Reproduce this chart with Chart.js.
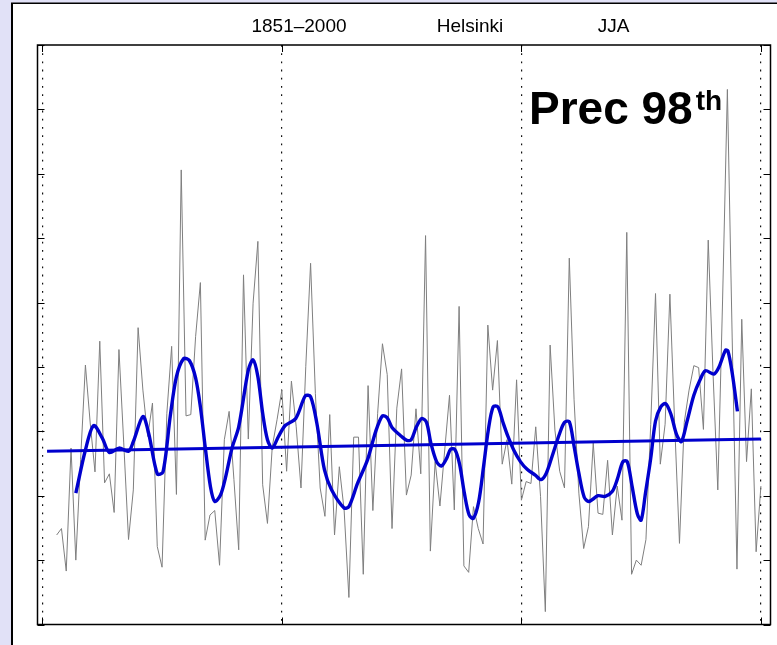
<!DOCTYPE html>
<html>
<head>
<meta charset="utf-8">
<title>Helsinki JJA Prec 98th</title>
<script src="https://cdn.jsdelivr.net/npm/chart.js@4.4.1/dist/chart.umd.min.js"></script>
<style>
  html, body { margin: 0; padding: 0; background: #e1e1f7; }
  canvas { display: block; }
</style>
</head>
<body>
<canvas id="chart" width="777" height="645"></canvas>
<script>
// Summer (JJA) 98th percentile precipitation index, Helsinki
const firstYear = 1853;
const annualValues = [
  1.39, 1.49, 0.83, 2.74, 1.00, 2.56, 4.03,                         // 1853-1859
  3.13, 2.37, 4.40, 2.20, 2.34, 1.74, 4.27, 2.82, 1.32, 2.09,       // 1860s
  4.61, 3.64, 2.92, 3.44, 1.21, 0.89, 3.28, 4.32, 2.02, 7.06,       // 1870s
  3.24, 3.26, 4.47, 5.31, 1.31, 1.70, 1.77, 0.92, 2.87, 3.31,       // 1880s
  2.25, 1.16, 5.43, 2.88, 4.99, 5.95, 2.17, 1.57, 2.76, 3.18,       // 1890s
  3.64, 2.38, 3.78, 3.07, 2.12, 4.01, 5.61, 3.59, 2.12, 1.68,       // 1900s
  3.26, 1.39, 2.45, 1.78, 0.42, 2.91, 2.91, 0.78, 3.71, 1.77,       // 1910s
  3.28, 4.36, 3.88, 1.49, 3.36, 3.97, 2.01, 2.32, 3.35, 2.34,       // 1920s
  6.04, 1.14, 2.53, 1.84, 2.71, 3.56, 1.78, 4.94, 0.91, 0.81,       // 1930s
  1.83, 1.49, 1.25, 4.65, 3.64, 4.41, 2.49, 2.87, 2.18, 3.80,       // 1940s
  1.93, 2.22, 2.19, 3.07, 1.99, 0.20, 4.34, 3.02, 2.38, 2.12,       // 1950s
  5.69, 3.49, 2.04, 1.18, 1.52, 2.82, 1.73, 1.71, 2.55, 1.39,       // 1960s
  2.15, 1.62, 6.09, 0.78, 1.00, 0.92, 1.32, 3.11, 5.14, 2.49,       // 1970s
  3.11, 5.13, 3.11, 1.26, 3.14, 3.64, 4.02, 3.99, 3.03, 5.97,       // 1980s
  3.91, 2.09, 5.04, 8.31, 4.45, 0.86, 4.74, 2.53, 3.66, 1.13,       // 1990s
  2.15                                                              // 2000
];
const annualYears = annualValues.map((_, i) => firstYear + i);

// Low-pass filtered curve
const smoothYears = [
  1857.0, 1859.0, 1860.7, 1862.5, 1864.0, 1866.0, 1868.0, 1869.0, 1871.0, 1872.2,
  1874.0, 1875.2, 1876.7, 1878.0, 1879.5, 1880.7, 1882.0, 1883.0, 1884.0, 1885.1,
  1886.0, 1887.2, 1888.2, 1889.6, 1891.0, 1893.0, 1894.0, 1895.0, 1896.0, 1897.0,
  1898.0, 1899.3, 1900.7, 1902.9, 1904.9, 1906.0, 1907.3, 1908.9, 1910.4, 1913.0,
  1914.0, 1915.8, 1917.9, 1919.6, 1921.0, 1922.0, 1923.0, 1925.0, 1926.1, 1927.0,
  1928.1, 1929.2, 1930.2, 1931.1, 1932.3, 1933.3, 1934.4, 1935.2, 1936.1, 1937.1,
  1938.1, 1939.1, 1940.0, 1941.1, 1942.1, 1943.1, 1944.1, 1945.1, 1946.2, 1947.2,
  1948.4, 1949.8, 1951.2, 1952.9, 1954.1, 1955.2, 1956.4, 1958.0, 1959.0, 1960.0,
  1961.0, 1962.0, 1963.1, 1964.1, 1966.0, 1967.5, 1969.0, 1970.0, 1971.2, 1972.1,
  1973.1, 1974.2, 1975.0, 1975.9, 1977.0, 1978.0, 1979.1, 1980.1, 1981.2, 1982.4,
  1983.4, 1984.6, 1986.0, 1987.3, 1988.4, 1990.2, 1991.2, 1992.6, 1993.1, 1994.0,
  1995.1
];
const smoothValues = [
  2.04, 2.71, 3.09, 2.90, 2.67, 2.74, 2.69, 2.84, 3.23, 2.97,
  2.34, 2.37, 3.23, 3.85, 4.13, 4.10, 3.83, 3.38, 2.76, 2.14,
  1.91, 2.01, 2.27, 2.74, 3.07, 3.95, 4.11, 3.85, 3.28, 2.87,
  2.74, 2.92, 3.09, 3.20, 3.55, 3.54, 3.13, 2.40, 2.09, 1.81,
  1.83, 2.19, 2.56, 3.00, 3.24, 3.21, 3.06, 2.92, 2.86, 2.87,
  3.07, 3.20, 3.14, 2.82, 2.53, 2.46, 2.58, 2.72, 2.72, 2.49,
  2.04, 1.70, 1.65, 1.91, 2.45, 3.02, 3.38, 3.38, 3.13, 2.92,
  2.71, 2.53, 2.41, 2.32, 2.25, 2.35, 2.61, 2.97, 3.14, 3.15,
  2.77, 2.35, 1.98, 1.91, 2.00, 1.99, 2.07, 2.25, 2.53, 2.53,
  2.15, 1.72, 1.62, 2.04, 2.58, 3.16, 3.38, 3.43, 3.27, 2.95,
  2.84, 3.16, 3.56, 3.80, 3.94, 3.89, 3.99, 4.26, 4.25, 3.91,
  3.31
];

// Linear trend
const trendYears = [1851, 2000];
const trendValues = [2.69, 2.88];

// Axis ticks (unlabelled)
const xTickYears = [1850, 1900, 1950, 2000];
const yTickValues = [0, 1, 2, 3, 4, 5, 6, 7, 8, 9];

// Header and panel label
const headerParts = ['1851\u20132000', 'Helsinki', 'JJA'];
const panelLabel = 'Prec 98';
const panelLabelSup = 'th';

const toXY = (xs, ys) => xs.map((x, i) => ({ x: x, y: ys[i] }));

const BLUE = '#0000cd';
const FONT = '"Liberation Sans", Arial, Helvetica, sans-serif';

const framePlugin = {
  id: 'frame',
  beforeDraw(chart) {
    const { ctx, width, height } = chart;
    ctx.save();
    ctx.fillStyle = '#e1e1f7';
    ctx.fillRect(0, 0, width, height);
    ctx.fillStyle = '#ffffff';
    ctx.fillRect(12, 3, width - 12, height - 3);
    ctx.strokeStyle = '#000';
    ctx.lineWidth = 2;
    ctx.beginPath();
    ctx.moveTo(12, 3);
    ctx.lineTo(12, height);
    ctx.stroke();
    ctx.lineWidth = 1.5;
    ctx.beginPath();
    ctx.moveTo(11, 3.25);
    ctx.lineTo(width, 3.25);
    ctx.stroke();
    ctx.restore();
  },
  afterDraw(chart) {
    const { ctx, chartArea: a, scales } = chart;
    const xs = scales.x, ys = scales.y;
    const tick = 7;
    ctx.save();
    ctx.strokeStyle = '#000';
    ctx.lineWidth = 1;
    ctx.beginPath();
    yTickValues.forEach(v => {
      const py = Math.round(ys.getPixelForValue(v)) + 0.5;
      ctx.moveTo(a.left, py); ctx.lineTo(a.left + tick, py);
      ctx.moveTo(a.right, py); ctx.lineTo(a.right - tick, py);
    });
    xTickYears.forEach(v => {
      const px = Math.round(xs.getPixelForValue(v)) + 0.5;
      ctx.moveTo(px, a.top); ctx.lineTo(px, a.top + tick);
      ctx.moveTo(px, a.bottom); ctx.lineTo(px, a.bottom - tick);
    });
    ctx.stroke();

    // axes box
    ctx.lineWidth = 1.5;
    ctx.strokeRect(a.left, a.top, a.right - a.left, a.bottom - a.top);

    // header
    ctx.fillStyle = '#000';
    ctx.font = '19px ' + FONT;
    ctx.textAlign = 'center';
    ctx.textBaseline = 'alphabetic';
    ctx.fillText(headerParts[0], 299, 32);
    ctx.fillText(headerParts[1], 470, 32);
    ctx.fillText(headerParts[2], 613.5, 32);

    // panel label
    ctx.textAlign = 'left';
    ctx.font = 'bold 46px ' + FONT;
    ctx.fillText(panelLabel, 529, 124);
    const w = ctx.measureText(panelLabel).width;
    ctx.font = 'bold 28px ' + FONT;
    ctx.fillText(panelLabelSup, 529 + w + 3, 110);
    ctx.restore();
  }
};

new Chart(document.getElementById('chart'), {
  type: 'line',
  data: {
    datasets: [
      {
        label: 'Filtered',
        data: toXY(smoothYears, smoothValues),
        borderColor: BLUE,
        borderWidth: 3.4,
        tension: 0.3,
        order: 0
      },
      {
        label: 'Trend',
        data: toXY(trendYears, trendValues),
        borderColor: BLUE,
        borderWidth: 3,
        tension: 0,
        order: 1
      },
      {
        label: 'Annual',
        data: toXY(annualYears, annualValues),
        borderColor: '#7f7f7f',
        borderWidth: 1,
        tension: 0,
        order: 2
      }
    ]
  },
  options: {
    responsive: false,
    animation: false,
    events: [],
    layout: { padding: { left: 37.5, top: 45, right: 6.5, bottom: 20.5 } },
    elements: { point: { radius: 0 } },
    plugins: {
      legend: { display: false },
      title: { display: false },
      tooltip: { enabled: false }
    },
    scales: {
      x: {
        type: 'linear',
        min: 1849,
        max: 2002,
        afterBuildTicks: s => { s.ticks = xTickYears.map(v => ({ value: v })); },
        ticks: { display: false },
        grid: { color: '#111', lineWidth: 1.2, drawTicks: false },
        border: { display: false, dash: [1.8, 6.4] }
      },
      y: {
        type: 'linear',
        min: 0,
        max: 9,
        afterBuildTicks: s => { s.ticks = yTickValues.map(v => ({ value: v })); },
        ticks: { display: false },
        grid: { display: false, drawTicks: false },
        border: { display: false }
      }
    }
  },
  plugins: [framePlugin]
});
</script>
</body>
</html>
